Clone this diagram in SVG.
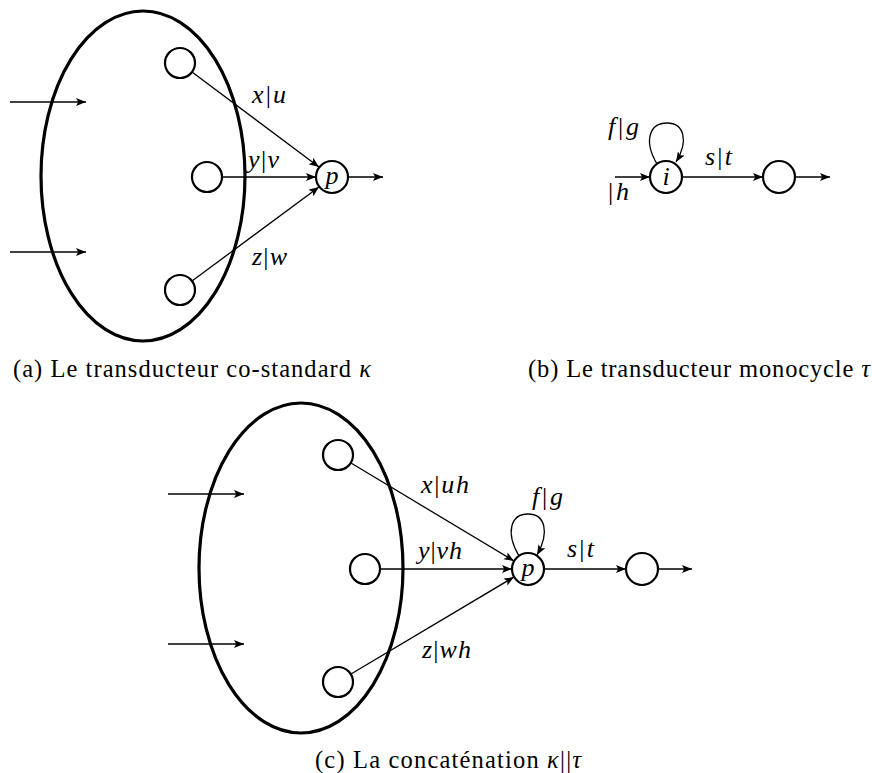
<svg xmlns="http://www.w3.org/2000/svg" width="872" height="773" viewBox="0 0 872 773">
<defs>
<marker id="ah" markerUnits="userSpaceOnUse" markerWidth="11" markerHeight="9" refX="10" refY="4" orient="auto">
<path d="M0,0 L10,4 L0,8 L2.2,4 z" fill="#000"/>
</marker>
<style>
.ell{fill:none;stroke:#000;stroke-width:3.2}
.st{fill:#fff;stroke:#000;stroke-width:2.2}
.ed{fill:none;stroke:#000;stroke-width:1.3;marker-end:url(#ah)}
.lb{font-family:"Liberation Serif","Times New Roman",serif;font-size:26px;fill:#000}
.it{font-style:italic}
.cap{font-family:"Liberation Serif","Times New Roman",serif;font-size:24.5px;fill:#000}
.nl{font-family:"Liberation Serif","Times New Roman",serif;font-size:26px;font-style:italic;text-anchor:middle;fill:#000}
</style>
</defs>
<rect width="872" height="773" fill="#fff"/>

<g id="connectors">
<line class="ed" x1="10" y1="102" x2="86" y2="102"/>
<line class="ed" x1="10" y1="252" x2="86" y2="252"/>
<line class="ed" x1="192" y1="72" x2="319" y2="167"/>
<line class="ed" x1="222" y1="177" x2="316" y2="177"/>
<line class="ed" x1="192" y1="281" x2="319" y2="187"/>
<line class="ed" x1="348" y1="177" x2="383" y2="177"/>
<line class="ed" x1="615" y1="177" x2="650" y2="177"/>
<path class="ed" d="M657,164 C643,140 650,123 667,123 C684,123 689,141 676,162"/>
<line class="ed" x1="682" y1="177" x2="763" y2="177"/>
<line class="ed" x1="795" y1="177" x2="830" y2="177"/>
<line class="ed" x1="168" y1="494" x2="244" y2="494"/>
<line class="ed" x1="168" y1="644" x2="244" y2="644"/>
<line class="ed" x1="351" y1="463" x2="514" y2="561"/>
<line class="ed" x1="380" y1="569" x2="512" y2="569"/>
<line class="ed" x1="351" y1="674" x2="514" y2="577"/>
<path class="ed" d="M519,556 C505,532 511,514 528,514 C545,514 550,532 537,555"/>
<line class="ed" x1="544" y1="569" x2="626" y2="569"/>
<line class="ed" x1="658" y1="569" x2="692" y2="569"/>
</g>

<g id="group-a"><ellipse class="ell" cx="143" cy="176" rx="102" ry="165"/></g>
<g id="a-q1"><circle class="st" cx="180" cy="63" r="15"/></g>
<g id="a-q2"><circle class="st" cx="207" cy="177" r="15"/></g>
<g id="a-q3"><circle class="st" cx="180" cy="290" r="15"/></g>
<g id="a-p"><circle class="st" cx="332" cy="177" r="16"/><text class="nl" x="332" y="184">p</text></g>

<g id="b-i"><circle class="st" cx="666" cy="177" r="16"/><text class="nl" x="666" y="185">i</text></g>
<g id="b-q"><circle class="st" cx="779" cy="177" r="16"/></g>

<g id="group-c"><ellipse class="ell" cx="301" cy="568" rx="102" ry="165"/></g>
<g id="c-q1"><circle class="st" cx="338" cy="455" r="15"/></g>
<g id="c-q2"><circle class="st" cx="365" cy="569" r="15"/></g>
<g id="c-q3"><circle class="st" cx="338" cy="682" r="15"/></g>
<g id="c-p"><circle class="st" cx="528" cy="569" r="16"/><text class="nl" x="528" y="576">p</text></g>
<g id="c-q"><circle class="st" cx="642" cy="569" r="16"/></g>

<g id="labels">
<text class="lb" x="252" y="103" textLength="34" lengthAdjust="spacing"><tspan class="it">x</tspan>|<tspan class="it">u</tspan></text>
<text class="lb" x="248" y="168" textLength="31" lengthAdjust="spacing"><tspan class="it">y</tspan>|<tspan class="it">v</tspan></text>
<text class="lb" x="252" y="265" textLength="35" lengthAdjust="spacing"><tspan class="it">z</tspan>|<tspan class="it">w</tspan></text>
<text class="lb" x="608" y="135" textLength="31" lengthAdjust="spacing"><tspan class="it">f</tspan>|<tspan class="it">g</tspan></text>
<text class="lb" x="705" y="165" textLength="27" lengthAdjust="spacing"><tspan class="it">s</tspan>|<tspan class="it">t</tspan></text>
<text class="lb" x="608" y="200" textLength="21" lengthAdjust="spacing">|<tspan class="it">h</tspan></text>
<text class="lb" x="421" y="493" textLength="48" lengthAdjust="spacing"><tspan class="it">x</tspan>|<tspan class="it">uh</tspan></text>
<text class="lb" x="418" y="559" textLength="44" lengthAdjust="spacing"><tspan class="it">y</tspan>|<tspan class="it">vh</tspan></text>
<text class="lb" x="422" y="658" textLength="49" lengthAdjust="spacing"><tspan class="it">z</tspan>|<tspan class="it">wh</tspan></text>
<text class="lb" x="532" y="505" textLength="31" lengthAdjust="spacing"><tspan class="it">f</tspan>|<tspan class="it">g</tspan></text>
<text class="lb" x="567" y="557" textLength="27" lengthAdjust="spacing"><tspan class="it">s</tspan>|<tspan class="it">t</tspan></text>
</g>

<g id="captions">
<text class="cap" x="13" y="377" textLength="358" lengthAdjust="spacing">(a) Le transducteur co-standard <tspan class="it">κ</tspan></text>
<text class="cap" x="528" y="377" textLength="342" lengthAdjust="spacing">(b) Le transducteur monocycle <tspan class="it">τ</tspan></text>
<text class="cap" x="315" y="768" textLength="266" lengthAdjust="spacing">(c) La concaténation <tspan class="it">κ</tspan>||<tspan class="it">τ</tspan></text>
</g>
</svg>
